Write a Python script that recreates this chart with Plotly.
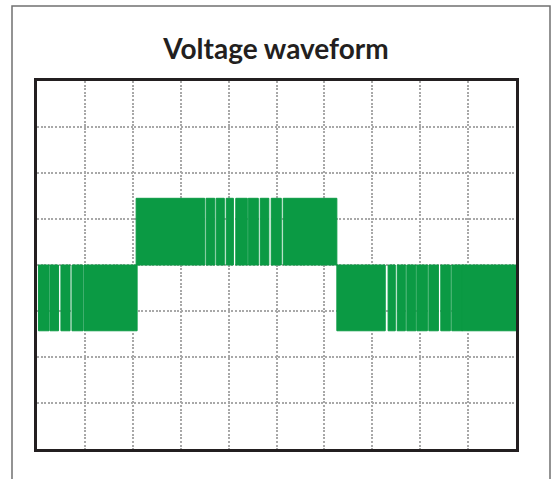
import plotly.graph_objects as go

# ---- data (grid divisions: x 0..10, y 0..8) ----
level_mid = 4.0
level_high = 5.45
level_low = 2.57

# solid (densely switched) blocks
solid_x0 = [0.98, 2.07, 5.14, 6.26, 8.87]
solid_x1 = [2.09, 3.50, 6.26, 7.27, 10.0]
solid_band = ["low", "high", "high", "low", "low"]

# individual visible pulses in sparse regions
pulse_x0 = [0.03, 0.27, 0.50, 0.73,
            3.53, 3.74, 3.95, 4.15, 4.41, 4.66, 4.89,
            7.33, 7.52, 7.72, 7.93, 8.18, 8.43, 8.66]
pulse_x1 = [0.25, 0.45, 0.69, 0.96,
            3.71, 3.91, 4.10, 4.39, 4.62, 4.84, 5.10,
            7.48, 7.69, 7.91, 8.15, 8.38, 8.63, 8.88]
pulse_band = ["low"] * 4 + ["high"] * 7 + ["low"] * 7

title_text = "Voltage waveform"
green = "#0b9a44"


def band_limits(b):
    if b == "high":
        return level_mid, level_high
    return level_low, level_mid


xs, ys = [], []
for x0, x1, b in list(zip(solid_x0, solid_x1, solid_band)) + list(zip(pulse_x0, pulse_x1, pulse_band)):
    lo, hi = band_limits(b)
    xs += [x0, x1, x1, x0, x0, None]
    ys += [lo, lo, hi, hi, lo, None]

fig = go.Figure()
fig.add_trace(go.Scatter(
    x=xs, y=ys, mode="lines", fill="toself",
    fillcolor=green, line=dict(color=green, width=1),
    hoverinfo="skip", showlegend=False,
))

axis_common = dict(
    showticklabels=False, ticks="", zeroline=False,
    showgrid=True, gridcolor="#a8a8a8", gridwidth=2, griddash="2px,1.6px",
    showline=True, linecolor="#231f20", linewidth=3, mirror=True,
    fixedrange=True,
)
fig.update_xaxes(range=[0, 10], dtick=1, tick0=0, **axis_common)
fig.update_yaxes(range=[0, 8], dtick=1, tick0=0, **axis_common)

# outer frame
fig.add_shape(type="rect", xref="paper", yref="paper",
              x0=(12 - 37) / 479, x1=(550 - 37) / 479,
              y0=-0.2, y1=(449 - 6) / 368,
              line=dict(color="#707070", width=1.5), layer="below")

fig.update_layout(
    width=552, height=479,
    margin=dict(l=37, r=36, t=81, b=30),
    paper_bgcolor="white", plot_bgcolor="white",
    title=dict(text="<b>" + title_text + "</b>", x=276 / 552, xanchor="center",
               y=(479 - 49) / 479, yanchor="middle",
               font=dict(family="Lato", size=28, color="#231f20")),
)

fig.write_html("out.html", config={"displayModeBar": False, "staticPlot": True},
               post_script="document.body.style.margin='0';document.body.style.overflow='hidden';")
